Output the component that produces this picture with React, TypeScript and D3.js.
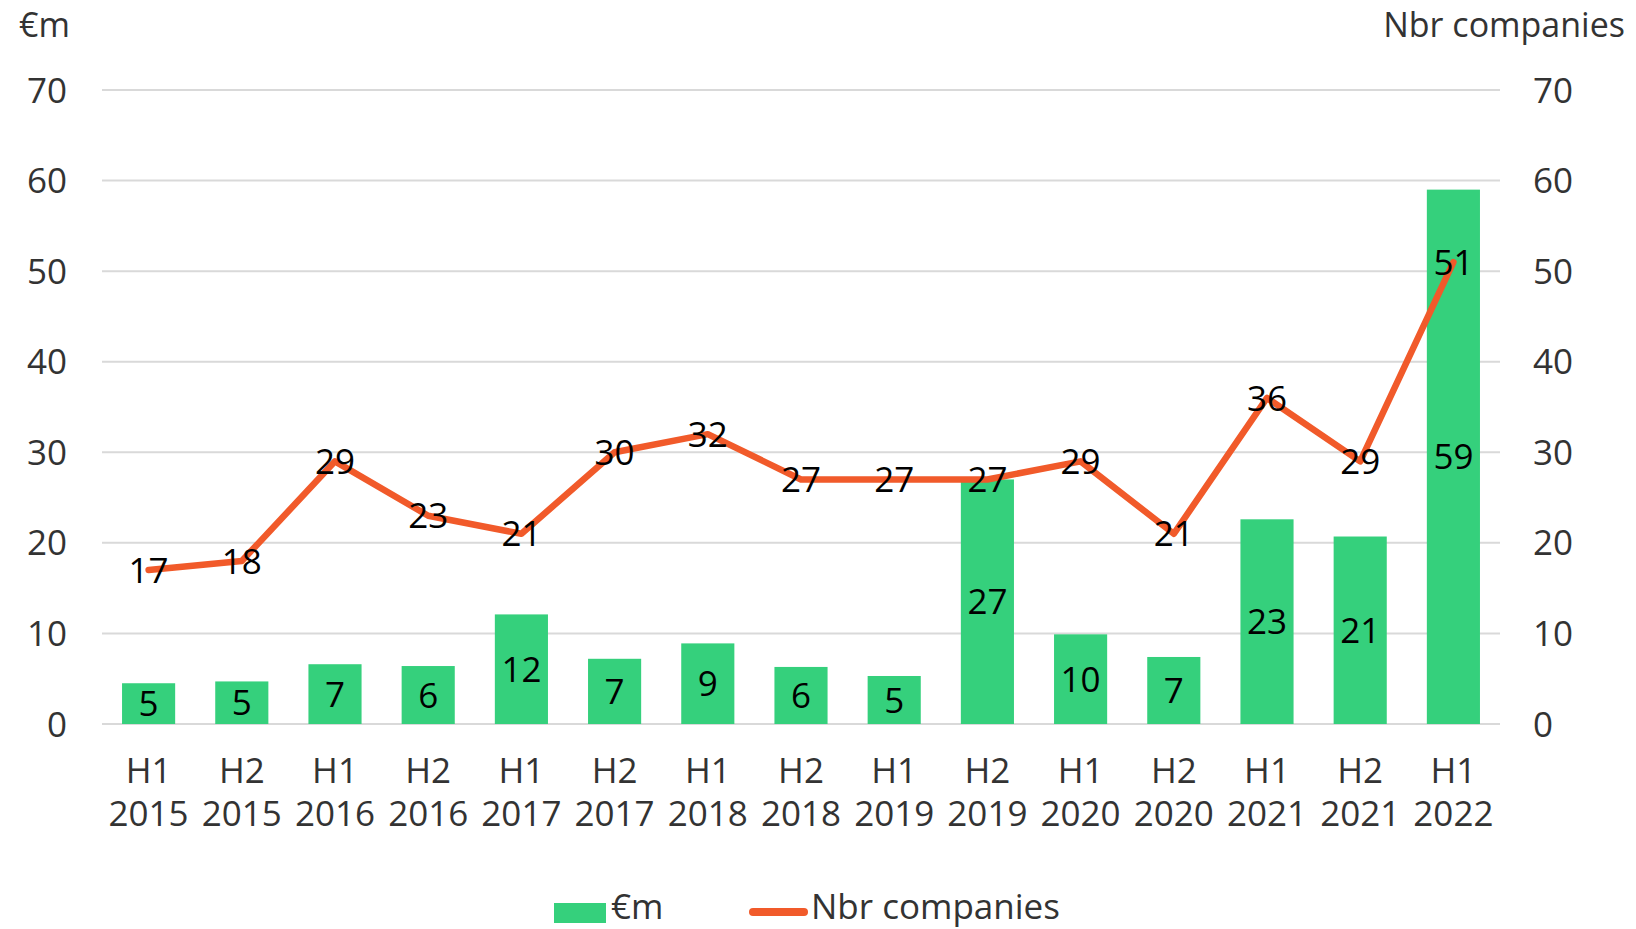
import React from "react";
import * as d3 from "d3";

const categories = [
  ["H1", "2015"], ["H2", "2015"], ["H1", "2016"], ["H2", "2016"], ["H1", "2017"],
  ["H2", "2017"], ["H1", "2018"], ["H2", "2018"], ["H1", "2019"], ["H2", "2019"],
  ["H1", "2020"], ["H2", "2020"], ["H1", "2021"], ["H2", "2021"], ["H1", "2022"],
];
const amountEur = [4.5, 4.7, 6.6, 6.4, 12.1, 7.2, 8.9, 6.3, 5.3, 27.0, 9.9, 7.4, 22.6, 20.7, 59.0];
const nbrCompanies = [17, 18, 29, 23, 21, 30, 32, 27, 27, 27, 29, 21, 36, 29, 51];
const yTicks = [0, 10, 20, 30, 40, 50, 60, 70];

const W = 1636, H = 929;
const FONT = "'Open Sans', Lato, sans-serif";
const FS = 35;
const GREEN = "#35D07C";
const ORANGE = "#F15A2A";
const TICK = "#333333";

export default function App() {
  const keys = categories.map((c, i) => String(i));
  const x = d3.scaleBand().domain(keys).range([102, 1500]).paddingInner(0.43).paddingOuter(0.215);
  const y = d3.scaleLinear().domain([0, 70]).range([724, 90]);
  const y2 = d3.scaleLinear().domain([0, 70]).range([724, 90]);
  const cx = (i: number) => (x(String(i)) as number) + x.bandwidth() / 2;
  const line = d3.line<number>().x((_, i) => cx(i)).y((d) => y2(d));

  return (
    <svg width={W} height={H} style={{ position: "absolute", left: 0, top: 0, background: "#fff" }}
      fontFamily={FONT}>
      {yTicks.map((t) => (
        <line key={"g" + t} x1={102} x2={1500} y1={y(t)} y2={y(t)} stroke="#D9D9D9" strokeWidth={2} />
      ))}
      <text x={19} y={37} fontSize={34} fill={TICK}>€m</text>
      <text x={1625} y={37} fontSize={34} fill={TICK} textAnchor="end">Nbr companies</text>
      {yTicks.map((t) => (
        <text key={"l" + t} x={67} y={y(t)} dy="0.36em" fontSize={FS} fill={TICK} textAnchor="end">{t}</text>
      ))}
      {yTicks.map((t) => (
        <text key={"r" + t} x={1533} y={y2(t)} dy="0.36em" fontSize={FS} fill={TICK}>{t}</text>
      ))}
      {amountEur.map((v, i) => (
        <rect key={"b" + i} x={x(String(i))} width={x.bandwidth()} y={y(v)} height={y(0) - y(v)} fill={GREEN} />
      ))}
      {amountEur.map((v, i) => (
        <text key={"bl" + i} x={cx(i)} y={(y(v) + y(0)) / 2} dy="0.36em" fontSize={FS} fill="#000" textAnchor="middle">
          {Math.round(v)}
        </text>
      ))}
      <path d={line(nbrCompanies) || ""} fill="none" stroke={ORANGE} strokeWidth={6.5} strokeLinejoin="round" strokeLinecap="round" />
      {nbrCompanies.map((v, i) => (
        <text key={"ll" + i} x={cx(i)} y={y2(v)} dy="0.36em" fontSize={FS} fill="#000" textAnchor="middle">{v}</text>
      ))}
      {categories.map((c, i) => (
        <g key={"x" + i}>
          <text x={cx(i)} y={783} fontSize={FS} fill={TICK} textAnchor="middle">{c[0]}</text>
          <text x={cx(i)} y={826} fontSize={FS} fill={TICK} textAnchor="middle">{c[1]}</text>
        </g>
      ))}
      <rect x={554} y={903} width={52} height={20} fill={GREEN} />
      <text x={611} y={919} fontSize={FS} fill={TICK}>€m</text>
      <line x1={753} x2={804} y1={912} y2={912} stroke={ORANGE} strokeWidth={8} strokeLinecap="round" />
      <text x={811} y={919} fontSize={FS} fill={TICK}>Nbr companies</text>
    </svg>
  );
}
